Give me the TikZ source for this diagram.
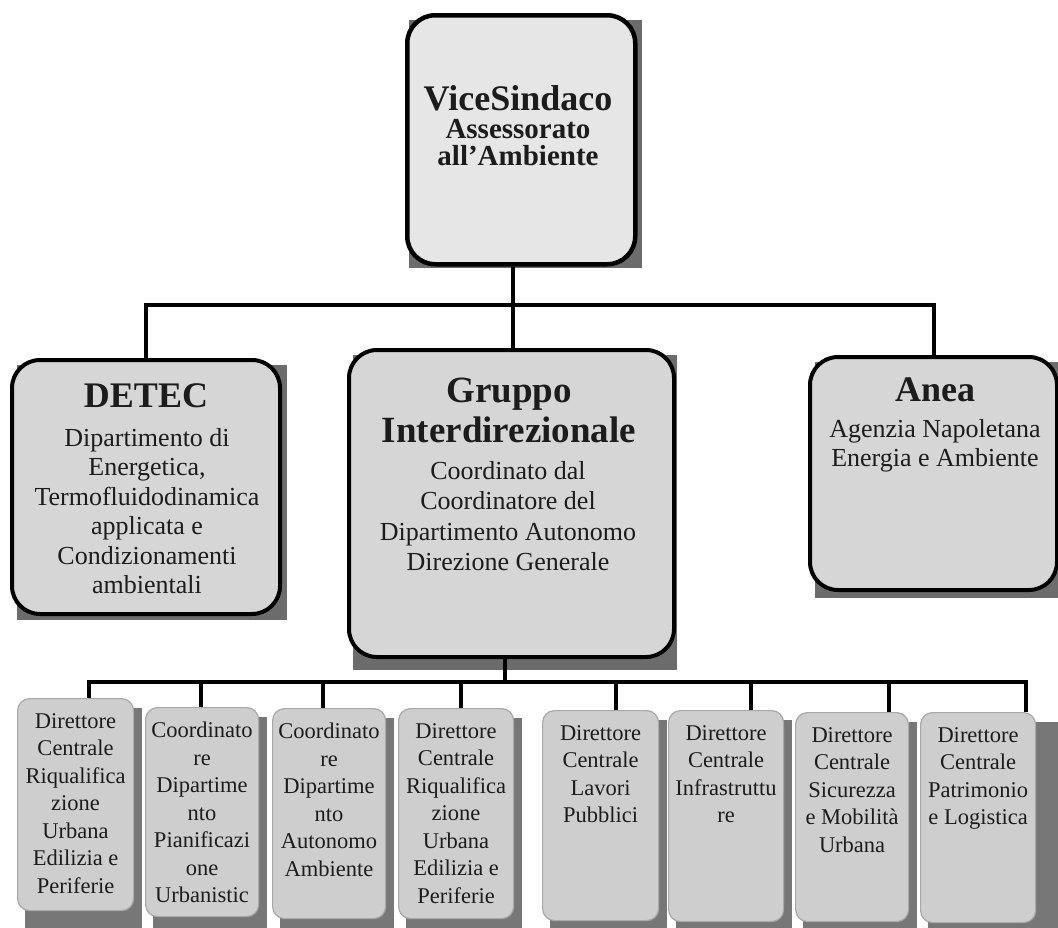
\documentclass[tikz,border=0pt]{standalone}
\usepackage{fontspec}
\setmainfont{Liberation Serif}
\definecolor{vfill}{HTML}{E6E6E6}
\definecolor{mfill}{HTML}{D6D6D6}
\definecolor{sfill}{HTML}{CECECE}
\definecolor{shad}{HTML}{6C6C6C}
\definecolor{sshad}{HTML}{777777}
\definecolor{txtc}{HTML}{1C1C1C}
\definecolor{sline}{HTML}{A8A8A8}
\begin{document}
\begin{tikzpicture}[x=1pt,y=-1pt,
 bigbox/.style={draw=black,line width=4pt,fill=mfill,rounded corners=28pt,inner sep=0pt,anchor=north west},
 smallbox/.style={draw=sline,line width=1.2pt,fill=sfill,rounded corners=12pt,inner sep=0pt,anchor=north west},
 conn/.style={draw=black,line width=4pt},
 shadowbig/.style={fill=shad},
 shadowsmall/.style={fill=sshad},
 ttl/.style={font=\fontsize{36}{40}\selectfont\bfseries,text=txtc,inner sep=0pt,anchor=north,align=center},
 ttlg/.style={font=\fontsize{37}{40}\selectfont\bfseries,text=txtc,inner sep=0pt,anchor=north,align=center},
 vsbody/.style={font=\fontsize{29}{27.5}\selectfont\bfseries,text=txtc,inner sep=0pt,anchor=north,align=center},
 midbody/.style={font=\fontsize{26}{29.5}\selectfont,text=txtc,inner sep=0pt,anchor=north,align=center},
 smallbody/.style={font=\fontsize{22.5}{27.5}\selectfont,text=txtc,inner sep=0pt,anchor=north,align=center}]
\useasboundingbox (0,0) rectangle (1058,927);

\coordinate (topbus) at (513,305);
\coordinate (lowbus) at (505,682);

% ---------- shadows ----------
\fill[shadowbig] (409,20) rectangle (642,268);
\fill[shadowbig] (17,365) rectangle (287,620);
\fill[shadowbig] (353,355) rectangle (677,670);
\fill[shadowbig] (815,362) rectangle (1066,598);
\fill[shadowsmall] (25,708) rectangle (142,930);
\fill[shadowsmall] (153,717) rectangle (267,930);
\fill[shadowsmall] (280,718) rectangle (394,930);
\fill[shadowsmall] (406,718) rectangle (522,930);
\fill[shadowsmall] (550,720) rectangle (667,934);
\fill[shadowsmall] (676,720) rectangle (792,935);
\fill[shadowsmall] (803,722) rectangle (917,935);
\fill[shadowsmall] (928,722) rectangle (1060,936);

% ---------- boxes ----------
\node[bigbox,fill=vfill,line width=4.5pt,minimum width=228pt,minimum height=249pt] (vs) at (405,13) {};
\node[bigbox,minimum width=268pt,minimum height=254pt] (detec) at (10,358) {};
\node[bigbox,minimum width=325pt,minimum height=307pt] (gruppo) at (347,348) {};
\node[bigbox,minimum width=247pt,minimum height=233pt] (anea) at (808,355) {};

\node[smallbox,minimum width=116pt,minimum height=212pt] (b1) at (17,698) {};
\node[smallbox,minimum width=113pt,minimum height=209pt] (b2) at (145,707) {};
\node[smallbox,minimum width=113pt,minimum height=210pt] (b3) at (272,708) {};
\node[smallbox,minimum width=115pt,minimum height=210pt] (b4) at (398,708) {};
\node[smallbox,minimum width=116pt,minimum height=210pt] (b5) at (542,710) {};
\node[smallbox,minimum width=115pt,minimum height=211pt] (b6) at (668,710) {};
\node[smallbox,minimum width=113pt,minimum height=209pt] (b7) at (795,712) {};
\node[smallbox,minimum width=115pt,minimum height=210pt] (b8) at (920,712) {};

% ---------- connectors ----------
\draw[conn] (vs.south -| topbus) -- (topbus);
\draw[conn] (detec.north) |- (topbus);
\draw[conn] (anea.north) |- (topbus);
\draw[conn] (gruppo.north -| topbus) -- (topbus);

\draw[conn] (gruppo.south -| lowbus) -- (lowbus);
\draw[conn] ([xshift=13pt]b1.north) |- (lowbus);
\draw[conn] ([xshift=-1.5pt]b2.north) |- (lowbus);
\draw[conn] ([xshift=-6.5pt]b3.north) |- (lowbus);
\draw[conn] ([xshift=4.5pt]b4.north) |- (lowbus);
\draw[conn] ([xshift=15pt]b5.north) |- (lowbus);
\draw[conn] ([xshift=24.5pt]b6.north) |- (lowbus);
\draw[conn] ([xshift=36.5pt]b7.north) |- (lowbus);
\draw[conn] ([xshift=47.5pt]b8.north) |- (lowbus);

% ---------- texts ----------
\node[vsbody] (vst) at (518,85.5) {{\fontsize{36}{27.5}\selectfont ViceSindaco}\\Assessorato\\all’Ambiente};

\node[ttl] (dtt) at (146,383) {DETEC};
\node[midbody] (dtb) at (147,428) {Dipartimento di\\Energetica,\\Termofluidodinamica\\applicata e\\Condizionamenti\\ambientali};

\node[ttlg] (grt) at (509,378) {Gruppo\\Interdirezionale};
\node[midbody,font=\fontsize{26}{30.5}\selectfont] (grb) at (508,461) {Coordinato dal\\Coordinatore del\\Dipartimento Autonomo\\Direzione Generale};

\node[ttl] (ant) at (935,378) {Anea};
\node[midbody,font=\fontsize{26}{29.5}\selectfont] (anb) at (935,419) {Agenzia Napoletana\\Energia e Ambiente};

\node[smallbody] (t1) at ([yshift=-15pt]b1.north) {Direttore\\Centrale\\Riqualifica\\zione\\Urbana\\Edilizia e\\Periferie};
\node[smallbody] (t2) at ([yshift=-15pt]b2.north) {Coordinato\\re\\Dipartime\\nto\\Pianificazi\\one\\Urbanistic};
\node[smallbody] (t3) at ([yshift=-15pt]b3.north) {Coordinato\\re\\Dipartime\\nto\\Autonomo\\Ambiente};
\node[smallbody] (t4) at ([yshift=-15pt]b4.north) {Direttore\\Centrale\\Riqualifica\\zione\\Urbana\\Edilizia e\\Periferie};
\node[smallbody] (t5) at ([yshift=-15pt]b5.north) {Direttore\\Centrale\\Lavori\\Pubblici};
\node[smallbody] (t6) at ([yshift=-15pt]b6.north) {Direttore\\Centrale\\Infrastruttu\\re};
\node[smallbody] (t7) at ([yshift=-15pt]b7.north) {Direttore\\Centrale\\Sicurezza\\e Mobilità\\Urbana};
\node[smallbody] (t8) at ([yshift=-15pt]b8.north) {Direttore\\Centrale\\Patrimonio\\e Logistica};
\end{tikzpicture}
\end{document}
